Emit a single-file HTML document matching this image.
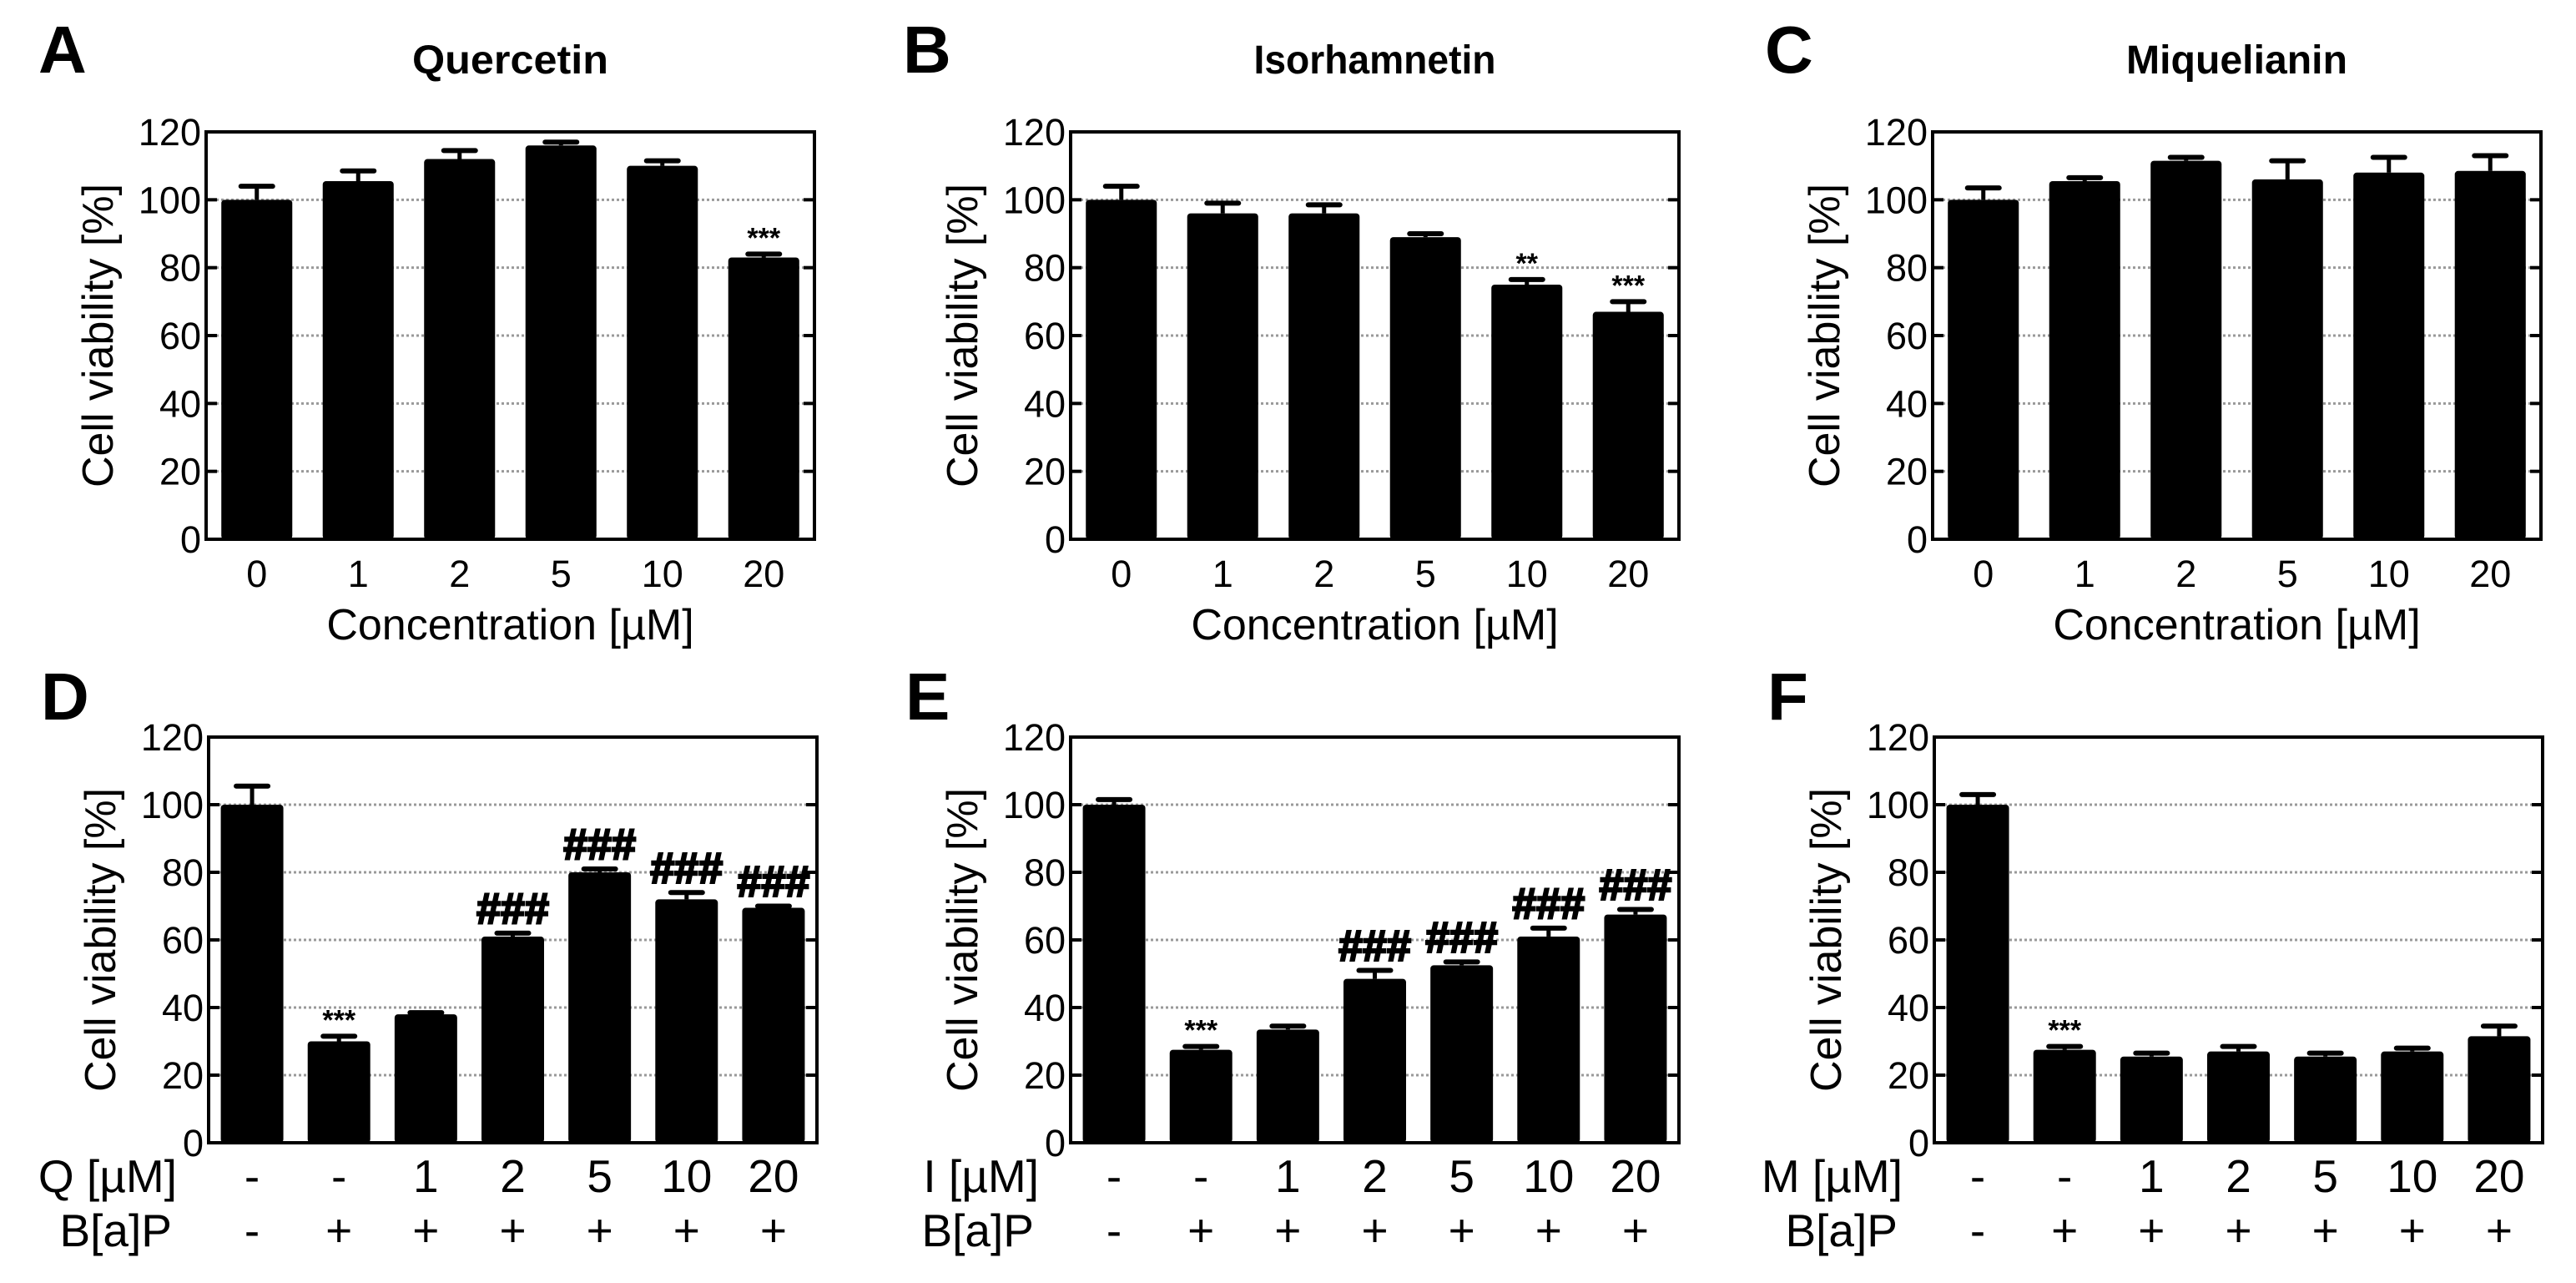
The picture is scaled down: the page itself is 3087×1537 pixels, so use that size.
<!DOCTYPE html>
<html><head><meta charset="utf-8"><style>
html,body{margin:0;padding:0;background:#fff;}
svg{display:block;font-family:"Liberation Sans",Arial,sans-serif;}
</style></head><body>
<svg id="fig" width="3087" height="1537" viewBox="0 0 3087 1537" xmlns="http://www.w3.org/2000/svg"></svg>
<script>
const yTicks = [0,20,40,60,80,100,120];
const topCats = ["0","1","2","5","10","20"];
const quercetinVals = [100,105.5,112,116,110,83];
const quercetinErr = [4,3,2.5,1,1.5,1];
const quercetinSig = ["","","","","","***"];
const isorhamnetinVals = [100,96,96,89,75,67];
const isorhamnetinErr = [4,3,2.5,1,1.5,3];
const isorhamnetinSig = ["","","","","**","***"];
const miquelianinVals = [100,105.5,111.5,106,108,108.5];
const miquelianinErr = [3.5,1,1,5.5,4.5,4.5];
const miquelianinSig = ["","","","","",""];
const botCats = ["-","-","1","2","5","10","20"];
const bapCats = ["-","+","+","+","+","+","+"];
const qBapVals = [100,30,38,61,80,72,69.5];
const qBapErr = [5.5,1.5,0.5,1,1,2,0.5];
const qBapSig = ["","***","","###","###","###","###"];
const iBapVals = [100,27.5,33.5,48.5,52.5,61,67.5];
const iBapErr = [1.5,1,1,2.5,1,2.5,1.5];
const iBapSig = ["","***","","###","###","###","###"];
const mBapVals = [100,27.5,25.5,27,25.5,27,31.5];
const mBapErr = [3,1,1,1.5,1,1,3];
const mBapSig = ["","***","","","","",""];

const NS="http://www.w3.org/2000/svg";
const svg=document.getElementById('fig');
function mk(tag,attrs,parent,text){const e=document.createElementNS(NS,tag);for(const k in attrs)e.setAttribute(k,attrs[k]);if(text!==undefined)e.textContent=text;(parent||svg).appendChild(e);return e;}

function panel(o){
  const g=mk('g',{});
  
  
  const L=o.left,R=o.left+729,T=o.top,B=o.bottom;
  const ys=v=>B-(v/120)*(B-T);
  const n=o.cats.length, band=(R-L)/n, bw=band*o.bwf;
  const xc=i=>L+band*(i+0.5);
  const lt=mk('text',{x:o.letterX,y:o.letterY,'font-size':80,'font-weight':'bold'},g,o.letter);
  
  
  if(o.title){const t=mk('text',{x:(L+R)/2,y:88,'font-size':48,'font-weight':'bold','text-anchor':'middle',textLength:o.titleLen,lengthAdjust:'spacingAndGlyphs'},g,o.title);
    
    }
  yTicks.forEach(v=>{
    if(v>0&&v<120){const gl=mk('line',{x1:L,x2:R,y1:ys(v),y2:ys(v),stroke:'#999','stroke-width':3,'stroke-dasharray':'3 3'},g);
      
      }
  });
  o.vals.forEach((v,i)=>{
    const x=xc(i);
    const top=ys(v+o.err[i]);
    const el=mk('line',{x1:x,x2:x,y1:ys(v),y2:top,stroke:'#000','stroke-width':5},g);
    
    
    const cap=mk('line',{x1:x-19,x2:x+19,y1:top,y2:top,stroke:'#000','stroke-width':6,'stroke-linecap':'round'},g);
    
    
    const r=mk('rect',{x:x-bw/2,y:ys(v),width:bw,height:B-ys(v),fill:'#000',rx:4},g);
    
    
    const s=o.sig[i];
    if(s){const big=s[0]==='#';
      const st=mk('text',{x:x,y:top-(big?12:8),'font-size':big?52:34,'font-weight':'bold','text-anchor':'middle',stroke:big?'#000':'none','stroke-width':big?2.5:0},g,s);
      
      }
  });
  const fr=mk('rect',{x:L,y:T,width:R-L,height:B-T,fill:'none',stroke:'#000','stroke-width':4},g);
  
  
  yTicks.forEach(v=>{
    mk('line',{x1:L,x2:L+13,y1:ys(v),y2:ys(v),stroke:'#000','stroke-width':4},g);
    mk('line',{x1:R-13,x2:R,y1:ys(v),y2:ys(v),stroke:'#000','stroke-width':4},g);
    const tl=mk('text',{x:L-6,y:ys(v)+16,'font-size':45,'text-anchor':'end'},g,String(v));
    
    
  });
  const yc=(T+B)/2;
  const yt=mk('text',{x:0,y:0,'font-size':52,'text-anchor':'middle',transform:`translate(${L-112},${yc}) rotate(-90)`},g,'Cell viability [%]');
  
  
  if(o.bottomRow){
    o.cats.forEach((c,i)=>{const t=mk('text',{x:xc(i),y:1428,'font-size':55,'text-anchor':'middle'},g,c);
      
      });
    bapCats.forEach((c,i)=>{const t=mk('text',{x:xc(i),y:1493,'font-size':55,'text-anchor':'middle'},g,c);
      
      });
    const a=mk('text',{x:L-38,y:1428,'font-size':55,'text-anchor':'end'},g,o.rowLabel);
    
    
    const b=mk('text',{x:L-44,y:1493,'font-size':55,'text-anchor':'end'},g,'B[a]P');
    
    
  } else {
    o.cats.forEach((c,i)=>{const t=mk('text',{x:xc(i),y:703,'font-size':45,'text-anchor':'middle'},g,c);
      
      });
    const xt=mk('text',{x:(L+R)/2,y:766,'font-size':52,'text-anchor':'middle'},g,'Concentration [µM]');
    
    
  }
}
const tops=[247,1283,2316];
panel({letter:'A',letterX:46,letterY:87,title:'Quercetin',titleLen:235,left:tops[0],top:158,bottom:646,cats:topCats,vals:quercetinVals,err:quercetinErr,sig:quercetinSig,bwf:0.7});
panel({letter:'B',letterX:1082,letterY:87,title:'Isorhamnetin',titleLen:290,left:tops[1],top:158,bottom:646,cats:topCats,vals:isorhamnetinVals,err:isorhamnetinErr,sig:isorhamnetinSig,bwf:0.7});
panel({letter:'C',letterX:2115,letterY:87,title:'Miquelianin',titleLen:265,left:tops[2],top:158,bottom:646,cats:topCats,vals:miquelianinVals,err:miquelianinErr,sig:miquelianinSig,bwf:0.7});
panel({letter:'D',letterX:49,letterY:862,left:250,top:883,bottom:1369,cats:botCats,vals:qBapVals,err:qBapErr,sig:qBapSig,bwf:0.72,bottomRow:true,rowLabel:'Q [µM]'});
panel({letter:'E',letterX:1085,letterY:862,left:1283,top:883,bottom:1369,cats:botCats,vals:iBapVals,err:iBapErr,sig:iBapSig,bwf:0.72,bottomRow:true,rowLabel:'I [µM]'});
panel({letter:'F',letterX:2118,letterY:862,left:2318,top:883,bottom:1369,cats:botCats,vals:mBapVals,err:mBapErr,sig:mBapSig,bwf:0.72,bottomRow:true,rowLabel:'M [µM]'});
</script>
</body></html>
